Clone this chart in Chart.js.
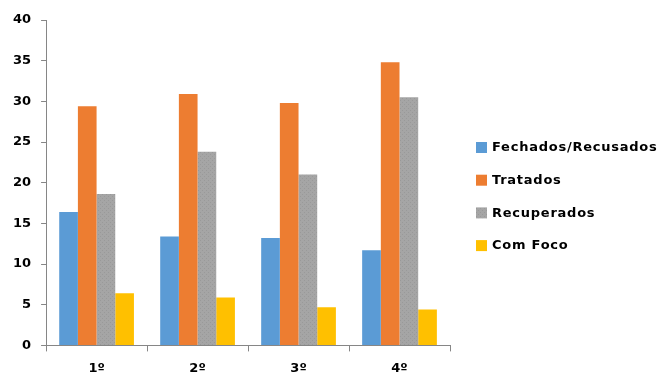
<!DOCTYPE html>
<html>
<head>
<meta charset="utf-8">
<script src="https://cdn.jsdelivr.net/npm/chart.js@4.4.0/dist/chart.umd.min.js"></script>
<style>
	html, body { margin: 0; padding: 0; background: #fff; }
	#wrap { width: 659px; height: 376px; }
</style>
</head>
<body>
<div id="wrap"><canvas id="bar-1"></canvas></div>
<script>
const categories = ["1º", "2º", "3º", "4º"];
const fechados = [16.4, 13.4, 13.2, 11.7];
const tratados = [29.4, 30.9, 29.8, 34.8];
const recuperados = [18.6, 23.8, 21.0, 30.5];
const comFoco = [6.4, 5.9, 4.7, 4.4];

// grey bars in the original have a faint dotted texture
function greyPattern() {
	const c = document.createElement("canvas");
	c.width = 4;
	c.height = 4;
	const g = c.getContext("2d");
	g.fillStyle = "#a5a5a5";
	g.fillRect(0, 0, 4, 4);
	g.fillStyle = "#999999";
	g.fillRect(0, 0, 1, 1);
	g.fillRect(2, 2, 1, 1);
	return g.createPattern(c, "repeat");
}

const axisColor = "#868686";
const tickFont = { family: "DejaVu Sans", size: 13, weight: "bold" };

// legend sits in the right margin, drawn from the datasets
const sideLegend = {
	id: "sideLegend",
	afterDraw(chart) {
		const ctx = chart.ctx;
		const x = chart.chartArea.right + 26;
		const y0 = 147;
		const step = 32.7;
		ctx.save();
		ctx.font = "bold 13px 'DejaVu Sans'";
		ctx.letterSpacing = "0.75px";
		ctx.textBaseline = "middle";
		chart.data.datasets.forEach((ds, i) => {
			const cy = y0 + i * step;
			ctx.fillStyle = ds.backgroundColor;
			ctx.fillRect(x, cy - 5, 11, 11);
			ctx.fillStyle = "#000";
			ctx.fillText(ds.label, x + 16, cy + 1);
		});
		ctx.restore();
	},
};

const data_b1 = {
	labels: categories,
	datasets: [
		{ label: "Fechados/Recusados", data: fechados, backgroundColor: "#5b9bd5" },
		{ label: "Tratados", data: tratados, backgroundColor: "#ed7d31" },
		{ label: "Recuperados", data: recuperados, backgroundColor: greyPattern() },
		{ label: "Com Foco", data: comFoco, backgroundColor: "#ffc000" },
	],
};

const config_b1 = {
	type: "bar",
	data: data_b1,
	plugins: [sideLegend],
	options: {
		responsive: true,
		maintainAspectRatio: false,
		animation: false,
		datasets: {
			bar: { categoryPercentage: 0.74, barPercentage: 1.0 },
		},
		layout: { padding: { top: 20, left: 3, right: 209, bottom: -9 } },
		plugins: {
			legend: { display: false },
			tooltip: { enabled: false },
		},
		scales: {
			x: {
				grid: { drawOnChartArea: false, color: axisColor, tickLength: 6, offset: true },
				border: { color: axisColor },
				ticks: { color: "#000", font: tickFont, padding: 9 },
			},
			y: {
				min: 0,
				max: 40,
				grid: { drawOnChartArea: false, color: axisColor, tickLength: 5 },
				border: { color: axisColor },
				ticks: { stepSize: 5, color: "#000", font: tickFont, padding: 10 },
			},
		},
	},
};

new Chart(document.getElementById("bar-1"), config_b1);
</script>
</body>
</html>
